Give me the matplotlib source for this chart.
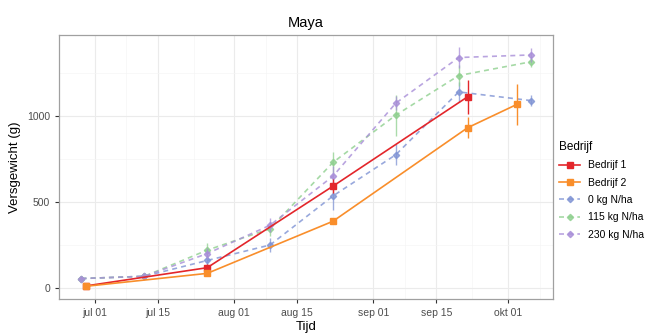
import pandas as pd
import matplotlib
matplotlib.use("Agg")
import matplotlib.pyplot as plt
from matplotlib.ticker import MultipleLocator

# Bedrijf (farm) measurements
b1_dates = pd.to_datetime(["2014-06-29", "2014-07-26", "2014-08-23", "2014-09-22"])
b1_vals = [12, 118, 592, 1112]
b1_err = [5, 20, 40, 100]

b2_dates = pd.to_datetime(["2014-06-29", "2014-07-26", "2014-08-23", "2014-09-22", "2014-10-03"])
b2_vals = [10, 85, 388, 932, 1068]
b2_err = [5, 10, 15, 60, 120]

# nitrogen trials
n_dates = pd.to_datetime(["2014-06-28", "2014-07-12", "2014-07-26", "2014-08-09",
                          "2014-08-23", "2014-09-06", "2014-09-20", "2014-10-06"])
n0_vals = [55, 68, 160, 250, 535, 775, 1140, 1090]
n0_err = [10, 10, 30, 40, 80, 60, 60, 30]
n115_vals = [55, 68, 220, 345, 730, 1005, 1235, 1315]
n115_err = [10, 10, 40, 40, 60, 120, 60, 30]
n230_vals = [55, 68, 200, 365, 650, 1075, 1340, 1355]
n230_err = [10, 10, 30, 40, 60, 40, 60, 40]

tick_dates = pd.to_datetime(["2014-07-01", "2014-07-15", "2014-08-01", "2014-08-15",
                             "2014-09-01", "2014-09-15", "2014-10-01"])
tick_labels = ["jul 01", "jul 15", "aug 01", "aug 15", "sep 01", "sep 15", "okt 01"]
minor_dates = pd.to_datetime(["2014-06-23", "2014-07-08", "2014-07-23", "2014-08-08",
                              "2014-08-23", "2014-09-08", "2014-09-23", "2014-10-08"])

plt.rcParams["font.family"] = ["Liberation Sans", "DejaVu Sans"]

fig = plt.figure(figsize=(6.52, 3.34), dpi=100)
ax = fig.add_axes([59 / 652, 1 - 299 / 334, (553 - 59) / 652, (299 - 35) / 334])

solid = [("Bedrijf 1", b1_dates, b1_vals, b1_err, "#e3262b"),
         ("Bedrijf 2", b2_dates, b2_vals, b2_err, "#f98e2b")]
dashed = [("0 kg N/ha", n0_vals, n0_err, "#7f93d4"),
          ("115 kg N/ha", n115_vals, n115_err, "#8fd08f"),
          ("230 kg N/ha", n230_vals, n230_err, "#a88ed8")]

handles = []
for label, d, v, e, c in solid:
    ax.errorbar(d, v, yerr=e, fmt="none", ecolor=c, elinewidth=1.0, zorder=4)
    h, = ax.plot(d, v, color=c, lw=1.2, marker="s", ms=4, label=label, zorder=5)
    handles.append(h)
for label, v, e, c in dashed:
    ax.errorbar(n_dates, v, yerr=e, fmt="none", ecolor=c, elinewidth=1.0, alpha=0.75, zorder=3)
    h, = ax.plot(n_dates, v, color=c, lw=1.2, ls=(0, (3, 2.5)), marker="D", ms=3.2,
                 alpha=0.8, label=label, zorder=3)
    handles.append(h)

ax.set_xlim(pd.Timestamp("2014-06-23 05:00"), pd.Timestamp("2014-10-11"))
ax.set_ylim(-64, 1471)
ax.set_xticks(tick_dates)
ax.set_xticklabels(tick_labels)
ax.set_xticks(minor_dates, minor=True)
ax.yaxis.set_major_locator(MultipleLocator(500))
ax.yaxis.set_minor_locator(MultipleLocator(250))
ax.grid(which="major", color="#ebebeb", lw=0.8)
ax.grid(which="minor", color="#f5f5f5", lw=0.5)
ax.set_axisbelow(True)
ax.tick_params(which="major", length=3, color="#333333", labelsize=7.5, labelcolor="#4d4d4d")
ax.tick_params(which="minor", length=0)
for s in ax.spines.values():
    s.set_color("#a0a0a0")
    s.set_linewidth(0.9)

ax.set_title("Maya", fontsize=10.5, pad=6)
ax.set_xlabel("Tijd", fontsize=9.5, labelpad=2)
ax.set_ylabel("Versgewicht (g)", fontsize=9.5, labelpad=4)

leg = fig.legend(handles=handles, title="Bedrijf", loc="upper left",
                 bbox_to_anchor=(555 / 652, 1 - 137 / 334), frameon=False,
                 fontsize=7.5, title_fontsize=8.5, handlelength=2.0,
                 labelspacing=0.7, borderaxespad=0)
leg._legend_box.align = "left"

fig.savefig("out.png", dpi=100)
